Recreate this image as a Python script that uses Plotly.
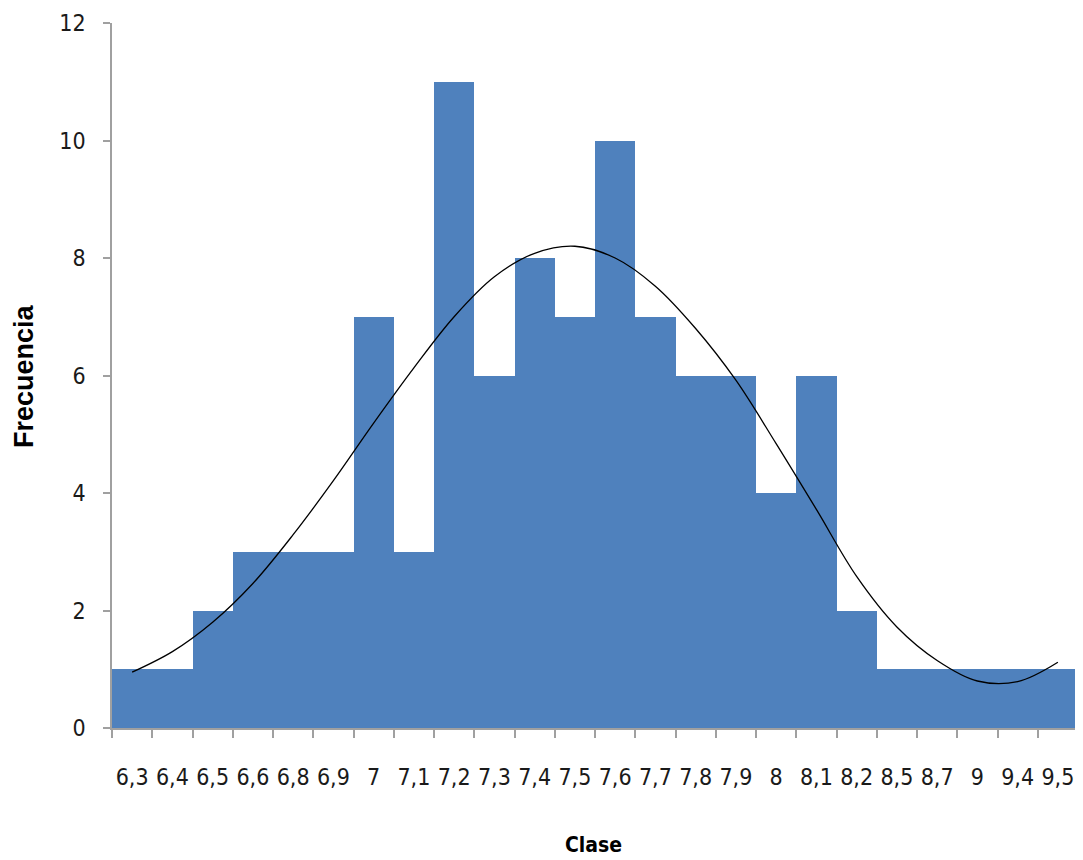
import plotly.graph_objects as go

clases = ["6,3", "6,4", "6,5", "6,6", "6,8", "6,9", "7", "7,1", "7,2", "7,3", "7,4", "7,5",
          "7,6", "7,7", "7,8", "7,9", "8", "8,1", "8,2", "8,5", "8,7", "9", "9,4", "9,5"]
frecuencia = [1, 1, 2, 3, 3, 3, 7, 3, 11, 6, 8, 7, 10, 7, 6, 6, 4, 6, 2, 1, 1, 1, 1, 1]
curva = [0.95, 1.30, 1.80, 2.46, 3.29, 4.21, 5.19, 6.13, 7.00, 7.68, 8.08, 8.20,
         8.00, 7.52, 6.80, 5.92, 4.84, 3.72, 2.58, 1.72, 1.15, 0.80, 0.79, 1.12]
y_ticks = [0, 2, 4, 6, 8, 10, 12]
titulo_x = "Clase"
titulo_y = "Frecuencia"

tick_font = dict(family="DejaVu Sans Condensed, DejaVu Sans, sans-serif", size=23, color="#1a1a1a")

# the page body adds an 8px offset; figure sized so the plot lands where the reference has it
OFF = 8
W, H = 1075, 852
L, R, T, B = 104, 5, 15, 132
pw, ph = W - L - R, H - T - B


def px_to_paper(xp, yp):
    return (xp - OFF - L) / pw, (H - B - (yp - OFF)) / ph


fig = go.Figure()
fig.add_trace(go.Bar(x=clases, y=frecuencia, marker=dict(color="#4F81BD", line=dict(width=0)),
                     showlegend=False))
fig.add_trace(go.Scatter(x=clases, y=curva, mode="lines",
                         line=dict(color="#000000", width=1.3, shape="spline", smoothing=1.0),
                         showlegend=False))

ax_x, ax_y = px_to_paper(593, 845)
ay_x, ay_y = px_to_paper(24, 376)

fig.update_layout(
    width=W, height=H,
    margin=dict(l=L, r=R, t=T, b=B),
    paper_bgcolor="white", plot_bgcolor="white",
    bargap=0,
    xaxis=dict(
        type="category", tickson="boundaries", ticks="outside", ticklen=8, tickcolor="#a0a0a0",
        tickwidth=1.5, showline=True, linecolor="#a0a0a0", linewidth=1.5, showgrid=False,
        tickfont=tick_font, ticklabelstandoff=28, tickangle=0, automargin=False,
    ),
    yaxis=dict(
        range=[0, 12], tickvals=y_ticks, ticks="outside", ticklen=7, tickcolor="#a0a0a0",
        tickwidth=1.5, showline=True, linecolor="#a0a0a0", linewidth=1.5, showgrid=False,
        zeroline=False, tickfont=tick_font, ticklabelstandoff=13, automargin=False,
    ),
    annotations=[
        dict(text="<b>%s</b>" % titulo_x, xref="paper", yref="paper",
             x=ax_x, y=ax_y, xanchor="center", yanchor="middle", showarrow=False,
             font=dict(family="DejaVu Sans Condensed, DejaVu Sans, sans-serif", size=21, color="#000000")),
        dict(text="<b>%s</b>" % titulo_y, xref="paper", yref="paper", textangle=-90,
             x=ay_x, y=ay_y, xanchor="center", yanchor="middle", showarrow=False,
             font=dict(family="Liberation Sans, Arial, sans-serif", size=27, color="#000000")),
    ],
)

fig.write_html("out.html")
